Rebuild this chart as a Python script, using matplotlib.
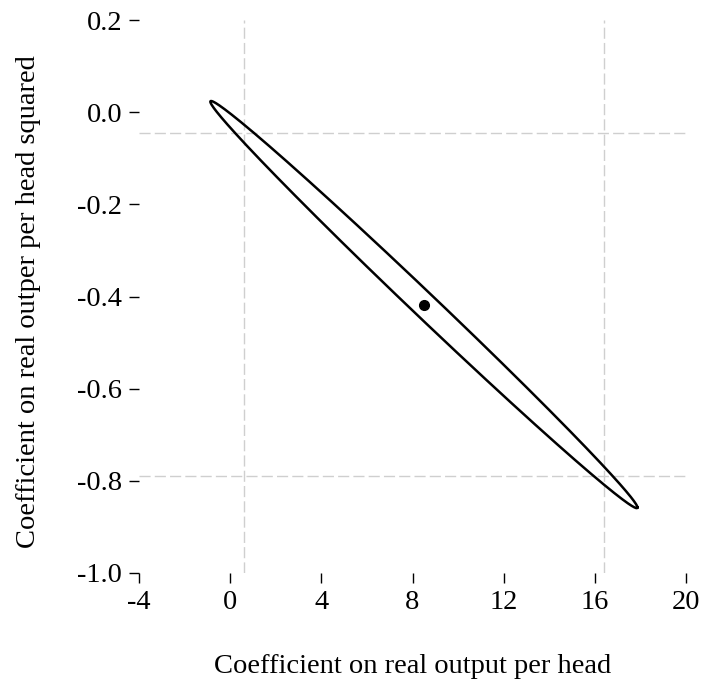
import numpy as np
import matplotlib.pyplot as plt

# point estimates, standard errors and their correlation
est = [8.5, -0.4175]
se = [4.03, 0.19]
rho = -0.9966
level_r = 2.325        # radius of the joint confidence region
ci_x = [0.6, 16.4]     # single-coefficient intervals (dashed lines)
ci_y = [-0.045, -0.79]

xticks = [-4, 0, 4, 8, 12, 16, 20]
yticks = [-1.0, -0.8, -0.6, -0.4, -0.2, 0.0, 0.2]

plt.rcParams['font.family'] = ['Liberation Serif', 'DejaVu Serif']

cov = np.array([[se[0]**2, rho*se[0]*se[1]],
                [rho*se[0]*se[1], se[1]**2]])
L = np.linalg.cholesky(cov)
t = np.linspace(0, 2*np.pi, 400)
circ = np.vstack([np.cos(t), np.sin(t)]) * level_r
ell = L @ circ
ex = ell[0] + est[0]
ey = ell[1] + est[1]

fig = plt.figure(figsize=(7.05, 6.82), dpi=100)
ax = fig.add_axes([139/705, 1-573/682, 547/705, 553/682])

for v in ci_x:
    ax.axvline(v, color='#cfcfcf', lw=1, ls=(0, (8, 3)), zorder=0)
for v in ci_y:
    ax.axhline(v, color='#cfcfcf', lw=1, ls=(0, (8, 3)), zorder=0)

ax.plot(ex, ey, color='black', lw=1.8)
ax.plot(est[0], est[1], 'o', color='black', ms=7)

ax.set_xlim(-4, 20)
ax.set_ylim(-1.0, 0.2)
ax.set_xticks(xticks)
ax.set_xticklabels([str(v) for v in xticks])
ax.set_yticks(yticks)
ax.set_yticklabels(['%.1f' % v for v in yticks])
for s in ax.spines.values():
    s.set_visible(False)
ax.tick_params(direction='out', length=7, width=1, labelsize=20.5, pad=5)

ax.set_xlabel('Coefficient on real output per head', fontsize=20.5)
ax.set_ylabel('Coefficient on real outper per head squared', fontsize=20.5)
ax.xaxis.set_label_coords(0.5, -0.147)
ax.yaxis.set_label_coords(-0.18, 0.49)

fig.savefig('out.png', dpi=100)
